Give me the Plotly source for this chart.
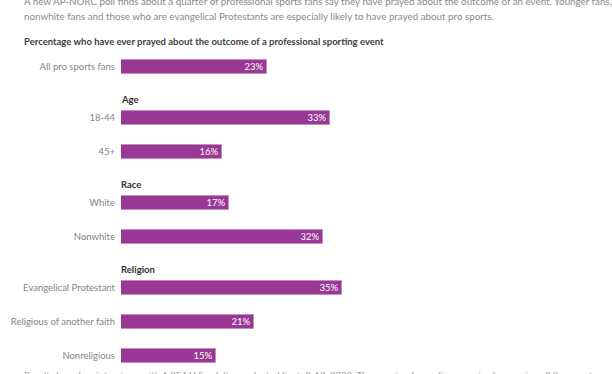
import plotly.graph_objects as go

groups = ["", "Age", "Race", "Religion"]
categories = ["All pro sports fans", "18-44", "45+", "White", "Nonwhite",
              "Evangelical Protestant", "Religious of another faith", "Nonreligious"]
group_of = [0, 1, 1, 2, 2, 3, 3, 3]
values = [23, 33, 16, 17, 32, 35, 21, 15]
labels = [f"{v}%" for v in values]

intro_1 = ("A new AP-NORC poll finds about a quarter of professional sports fans say they have "
           "prayed about the outcome of an event. Younger fans,")
intro_2 = ("nonwhite fans and those who are evangelical Protestants are especially likely to have "
           "prayed about pro sports.")
subtitle = "Percentage who have ever prayed about the outcome of a professional sporting event"
footnote = ("Results based on interviews with 1,254 U.S. adults conducted Sept. 9-12, 2022. "
            "The margin of sampling error is plus or minus 3.9 percentage points.")

FONT = "Lato, Roboto, sans-serif"
PURPLE = "#993894"

# row positions: one unit per row, half a unit extra before each group header
ypos = [i + 0.5 * g for i, g in enumerate(group_of)]

fig = go.Figure(go.Bar(
    x=values, y=ypos, orientation="h",
    marker=dict(color=PURPLE, line=dict(color="#c48fc1", width=1)),
    width=0.4,
    text=labels, textposition="inside", insidetextanchor="end",
    constraintext="none",
    textfont=dict(color="white", size=9.5, family=FONT),
    textangle=0, cliponaxis=False,
))

for g, name in enumerate(groups):
    if not name:
        continue
    first = ypos[group_of.index(g)]
    fig.add_annotation(x=0, y=first - 0.53, xref="x", yref="y", text=f"<b>{name}</b>",
                       showarrow=False, xanchor="left", yanchor="middle", xshift=-2,
                       font=dict(size=9.5, color="#333333", family=FONT))

fig.update_layout(
    width=612, height=374,
    margin=dict(l=121, r=12, t=50, b=0, autoexpand=False),
    plot_bgcolor="white", paper_bgcolor="white",
    showlegend=False,
    bargap=0,
    xaxis=dict(range=[0, 75.7], visible=False, fixedrange=True),
    yaxis=dict(range=[9.03, -0.5], tickmode="array", tickvals=ypos, ticktext=categories,
               showgrid=False, zeroline=False, showline=False, ticks="",
               automargin=False, ticklabelstandoff=5, fixedrange=True,
               tickfont=dict(size=9.5, color="#858585", family=FONT)),
    font=dict(family=FONT),
)

def page_text(text, x_px, y_px, size, color, bold=False):
    fig.add_annotation(text=f"<b>{text}</b>" if bold else text,
                       xref="paper", yref="paper",
                       x=(x_px - 121) / (612 - 121 - 12),
                       y=(374 - y_px) / (374 - 50),
                       xanchor="left", yanchor="middle", showarrow=False,
                       font=dict(size=size, color=color, family=FONT))

page_text(intro_1, 22, 1, 9.8, "#8a8a8a")
page_text(intro_2, 22, 16, 9.8, "#8a8a8a")
page_text(subtitle, 22, 42, 9.5, "#404040", bold=True)
page_text(footnote, 22, 375, 9.5, "#a0a0a0")

fig.write_html("out.html", config={"displayModeBar": False},
               post_script="document.body.style.margin='0';")
